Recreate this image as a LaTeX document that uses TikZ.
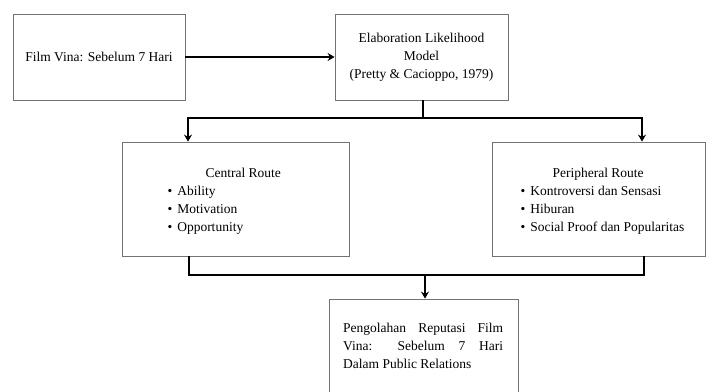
\documentclass[tikz,border=0pt]{standalone}
\usepackage{fontspec}
\setmainfont{Liberation Serif}
\usetikzlibrary{arrows.meta}
\begin{document}
\begin{tikzpicture}[x=1pt,y=-1pt,
  box/.style={draw=black!55, line width=0.8pt, rectangle, inner sep=0pt},
  conn/.style={line width=2pt, black},
  arr/.style={conn, -{Stealth[length=7pt,width=8pt]}},
  lbl/.style={font=\fontsize{13.5}{18}\selectfont, align=center}]
\useasboundingbox (0,0) rectangle (707,391);
\clip (0,0) rectangle (707,391);
% boxes
\node[box, minimum width=172pt, minimum height=86pt] (film) at (99,57) {};
\node[lbl] at (film.center) {Film Vina: Sebelum 7 Hari};
\node[box, minimum width=173pt, minimum height=86pt] (elm) at (421.5,57) {};
\node[lbl] at (elm.center) {Elaboration Likelihood\\Model\\(Pretty \& Cacioppo, 1979)};
\node[box, minimum width=227pt, minimum height=114pt] (central) at (235.5,199) {};
\node[lbl, align=left, anchor=north west] at (164,165) {\hspace*{38pt}Central Route\\%
\textbullet\hspace{5pt}Ability\\%
\textbullet\hspace{5pt}Motivation\\%
\textbullet\hspace{5pt}Opportunity};
\node[box, minimum width=213pt, minimum height=114pt] (periph) at (598.5,199) {};
\node[lbl, align=left, anchor=north west] at (517,165) {\hspace*{32pt}Peripheral Route\\%
\textbullet\hspace{5pt}Kontroversi dan Sensasi\\%
\textbullet\hspace{5pt}Hiburan\\%
\textbullet\hspace{5pt}Social Proof dan Popularitas};
\node[box, minimum width=189pt, minimum height=110pt] (result) at (423.5,354) {};
\node[font=\fontsize{13.5}{18}\selectfont, text width=160pt, align=justify, anchor=north west, inner sep=0pt] at (343,323)
  {Pengolahan Reputasi Film\linebreak Vina: Sebelum 7 Hari\linebreak Dalam Public Relations};
% connectors
\coordinate (top) at (423,118);
\coordinate (tl) at (188,118);
\coordinate (tr) at (642,118);
\coordinate (bot) at (425,275);
\draw[arr] (film.east) -- (elm.west);
\draw[conn] (elm.south -| top) -- (top);
\draw[arr] (tl) -- (tl |- central.north);
\draw[arr] (tr) -- (tr |- periph.north);
\draw[conn] ([xshift=-1pt]tl) -- ([xshift=1pt]tr);
\draw[conn] (central.south -| 189,0) |- (bot);
\draw[conn] (periph.south -| 644,0) |- (bot);
\draw[arr] (bot) -- (bot |- result.north);
\end{tikzpicture}
\end{document}
